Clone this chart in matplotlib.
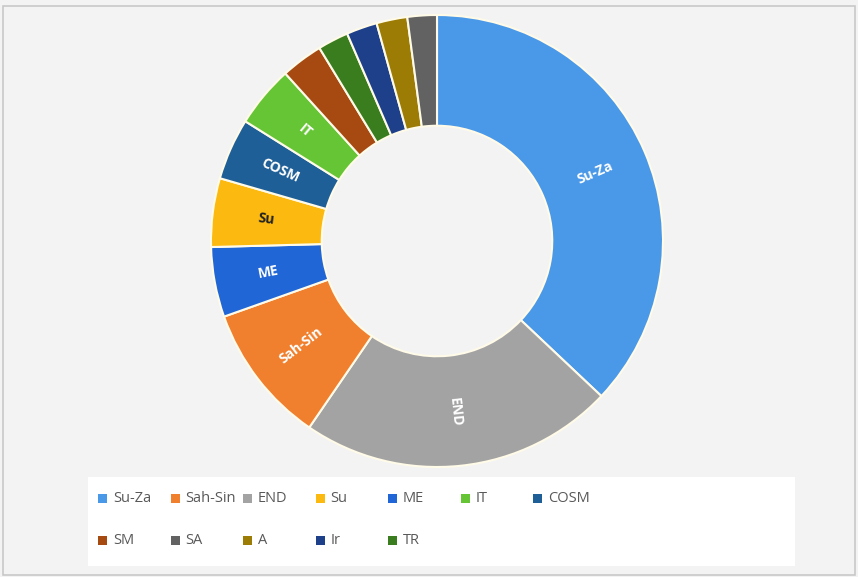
import numpy as np
import matplotlib.pyplot as plt
from matplotlib.patches import Rectangle

# slices in drawing order (clockwise from 12 o'clock)
labels = ['Su-Za', 'END', 'Sah-Sin', 'ME', 'Su', 'COSM', 'IT', 'SM', 'TR', 'Ir', 'A', 'SA']
values = [37.0, 22.5, 10.0, 5.0, 4.9, 4.4, 4.4, 3.0, 2.2, 2.2, 2.2, 2.1]
colors = {'Su-Za': '#4a98e8', 'Sah-Sin': '#f07f2e', 'END': '#a3a3a3', 'Su': '#fcb90f',
          'ME': '#2166d6', 'IT': '#66c534', 'COSM': '#1f5f98', 'SM': '#a64a12',
          'SA': '#626262', 'A': '#9c7c05', 'Ir': '#1e3f8a', 'TR': '#3a7d1e'}
shown = ['Su-Za', 'END', 'Sah-Sin', 'ME', 'Su', 'COSM', 'IT']
dark_text = ['Su']

# legend order
legend_order = ['Su-Za', 'Sah-Sin', 'END', 'Su', 'ME', 'IT', 'COSM',
                'SM', 'SA', 'A', 'Ir', 'TR']

W, H = 858, 577
fig = plt.figure(figsize=(W / 100, H / 100), dpi=100)
fig.patch.set_facecolor('#f3f3f3')
fig.add_artist(Rectangle((0.003, 0.003), 0.994, 0.986, transform=fig.transFigure,
                         fill=False, edgecolor='#c8c8c8', linewidth=1.2))

cx, cy, r = 437, 241, 226
ax = fig.add_axes([(cx - r) / W, (H - cy - r) / H, 2 * r / W, 2 * r / H])
wedges, _ = ax.pie(values, colors=[colors[l] for l in labels], startangle=90,
                   counterclock=False, radius=1.0,
                   wedgeprops=dict(width=0.49, edgecolor='#fffbe8', linewidth=1.5))
ax.set_xlim(-1, 1)
ax.set_ylim(-1, 1)
ax.set_aspect('equal')
ax.axis('off')

for w, lab in zip(wedges, labels):
    if lab not in shown:
        continue
    mid = (w.theta1 + w.theta2) / 2
    rad = np.deg2rad(mid)
    rr = 0.76
    rot = mid
    if np.cos(rad) < 0:
        rot = mid + 180
    ax.text(rr * np.cos(rad), rr * np.sin(rad), lab, rotation=rot,
            rotation_mode='anchor', ha='center', va='center',
            fontsize=10, fontweight='bold', family='Open Sans',
            color='#222222' if lab in dark_text else 'white')

# legend box
lx0, ly0, lx1, ly1 = 88, 477, 795, 566
lax = fig.add_axes([lx0 / W, (H - ly1) / H, (lx1 - lx0) / W, (ly1 - ly0) / H])
lax.set_xlim(lx0, lx1)
lax.set_ylim(ly1, ly0)
lax.set_facecolor('white')
for s in lax.spines.values():
    s.set_visible(False)
lax.set_xticks([])
lax.set_yticks([])

for i, lab in enumerate(legend_order):
    col, row = i % 7, i // 7
    x = 98 + col * 72.5
    y = 498 + row * 42
    lax.add_patch(Rectangle((x, y - 4.5), 9, 9, facecolor=colors[lab], edgecolor='none'))
    lax.text(x + 15, y, lab, ha='left', va='center', fontsize=10.5,
             color='#595959', family='Open Sans')

fig.savefig('out.png', dpi=100, facecolor=fig.get_facecolor())
